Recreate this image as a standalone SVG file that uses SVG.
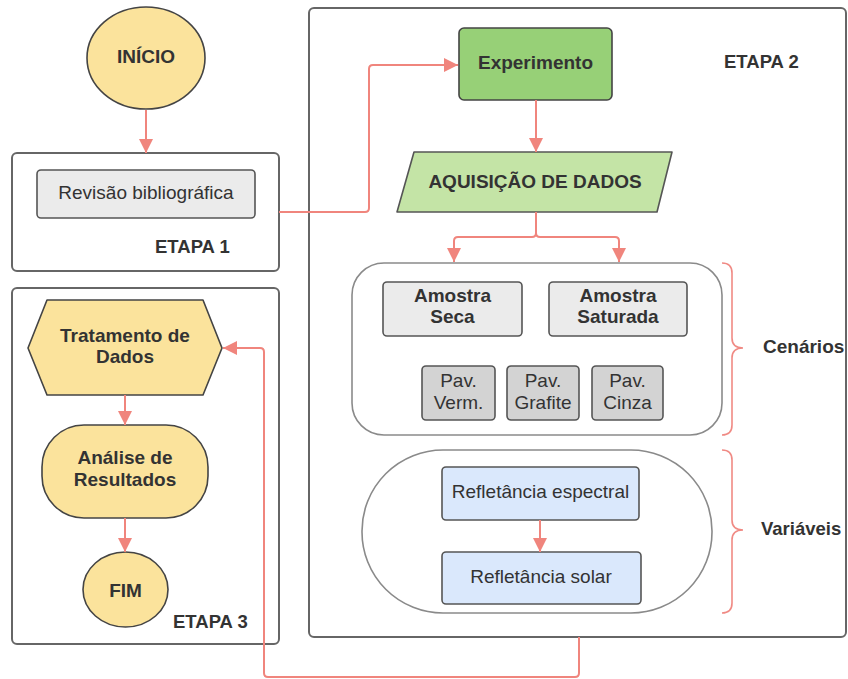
<svg xmlns="http://www.w3.org/2000/svg" width="848" height="679" viewBox="0 0 848 679">
<defs>
<marker id="ah" markerUnits="userSpaceOnUse" markerWidth="15" markerHeight="14" refX="14" refY="7" orient="auto">
<path d="M0,0 L14,7 L0,14 z" fill="#f0857d"/>
</marker>
<style>
.frame{fill:#fff;stroke:#666;stroke-width:2}
.grp{fill:#fff;stroke:#8a8a8a;stroke-width:1.6}
.yel{fill:#fbe39c;stroke:#444;stroke-width:1.6}
.gray{fill:#ebebeb;stroke:#555;stroke-width:1.6}
.dgray{fill:#d3d3d3;stroke:#555;stroke-width:1.6}
.blue{fill:#dae8fc;stroke:#555;stroke-width:1.6}
.con{fill:none;stroke:#f0857d;stroke-width:2}
.brace{fill:none;stroke:#f08a84;stroke-width:1.6}
text{font-family:"Liberation Sans",Arial,sans-serif;font-size:19px;fill:#333}
.b{font-weight:bold}
.c{text-anchor:middle}
</style>
</defs>
<rect width="848" height="679" fill="#fff"/>

<g id="etapa1">
<rect class="frame" x="12" y="153" width="267" height="118" rx="5"/>
<text class="b" x="155" y="253" style="font-size:18.5px">ETAPA 1</text>
</g>
<g id="etapa2">
<rect class="frame" x="309" y="8" width="537" height="629" rx="5"/>
<text class="b" x="724" y="68" style="font-size:18.5px">ETAPA 2</text>
</g>
<g id="etapa3">
<rect class="frame" x="12" y="288" width="267" height="356" rx="5"/>
<text class="b" x="173" y="628" style="font-size:18.5px">ETAPA 3</text>
</g>

<g id="inicio">
<ellipse class="yel" cx="146" cy="58" rx="59" ry="51"/>
<text class="b c" x="146" y="63">INÍCIO</text>
</g>
<g id="revisao">
<rect class="gray" x="37" y="170" width="218" height="48" rx="4"/>
<text class="c" x="146" y="199">Revisão bibliográfica</text>
</g>

<g id="experimento">
<rect x="459" y="28" width="153" height="72" rx="5" fill="#97d077" stroke="#444" stroke-width="1.6"/>
<text class="b c" x="535.5" y="69">Experimento</text>
</g>
<g id="aquisicao">
<path d="M414,152 H672 L657,212 H397 Z" fill="#c4e4a6" stroke="#555" stroke-width="1.6" stroke-linejoin="round"/>
<text class="b c" x="535" y="188">AQUISIÇÃO DE DADOS</text>
</g>

<g id="cenarios">
<rect class="grp" x="352" y="263" width="370" height="172" rx="32"/>
<path class="brace" d="M722,263 Q732,263 732,273 V338 Q732,348 743,348 Q732,348 732,358 V425 Q732,435 722,435"/>
<text class="b" x="763" y="353" style="font-size:19px">Cenários</text>
</g>
<g id="amostra-seca">
<rect class="gray" x="383" y="282" width="139" height="54" rx="4"/>
<text class="b c" x="452.5" y="302">Amostra</text>
<text class="b c" x="452.5" y="323">Seca</text>
</g>
<g id="amostra-saturada">
<rect class="gray" x="549" y="282" width="138" height="54" rx="4"/>
<text class="b c" x="618" y="302">Amostra</text>
<text class="b c" x="618" y="323">Saturada</text>
</g>
<g id="pav-verm">
<rect class="dgray" x="422" y="366" width="73" height="54" rx="4"/>
<text class="c" x="458.5" y="387">Pav.</text>
<text class="c" x="458.5" y="409">Verm.</text>
</g>
<g id="pav-grafite">
<rect class="dgray" x="507" y="366" width="72" height="54" rx="4"/>
<text class="c" x="543" y="387">Pav.</text>
<text class="c" x="543" y="409">Grafite</text>
</g>
<g id="pav-cinza">
<rect class="dgray" x="592" y="366" width="71" height="54" rx="4"/>
<text class="c" x="627.5" y="387">Pav.</text>
<text class="c" x="627.5" y="409">Cinza</text>
</g>

<g id="variaveis">
<rect class="grp" x="362" y="450" width="350" height="163" rx="81"/>
<path class="brace" d="M722,450 Q732,450 732,460 V520 Q732,530 743,530 Q732,530 732,540 V603 Q732,613 722,613"/>
<text class="b" x="761" y="535" style="font-size:18.5px">Variáveis</text>
</g>
<g id="ref-espectral">
<rect class="blue" x="442" y="467" width="197" height="53" rx="4"/>
<text class="c" x="540.5" y="498">Refletância espectral</text>
</g>
<g id="ref-solar">
<rect class="blue" x="442" y="552" width="199" height="52" rx="4"/>
<text class="c" x="541" y="583">Refletância solar</text>
</g>

<g id="tratamento">
<path class="yel" d="M28,348 L47,300 H203 L222,348 L203,395 H47 Z" stroke-linejoin="round"/>
<text class="b c" x="125" y="342">Tratamento de</text>
<text class="b c" x="125" y="363">Dados</text>
</g>
<g id="analise">
<rect class="yel" x="42" y="425" width="166" height="93" rx="42"/>
<text class="b c" x="125" y="464">Análise de</text>
<text class="b c" x="125" y="486">Resultados</text>
</g>
<g id="fim">
<ellipse class="yel" cx="125.5" cy="589.5" rx="42.5" ry="37.5"/>
<text class="b c" x="125.5" y="597">FIM</text>
</g>

<g id="connectors">
<path class="con" marker-end="url(#ah)" d="M146,110 V153"/>
<path class="con" marker-end="url(#ah)" d="M279,212 H365 Q369,212 369,208 V69 Q369,65 373,65 H458"/>
<path class="con" marker-end="url(#ah)" d="M536,100 V152"/>
<path class="con" marker-end="url(#ah)" d="M536,212 V233 Q536,237 532,237 H458 Q454,237 454,241 V262"/>
<path class="con" marker-end="url(#ah)" d="M536,212 V233 Q536,237 540,237 H615 Q619,237 619,241 V262"/>
<path class="con" marker-end="url(#ah)" d="M540,520 V552"/>
<path class="con" marker-end="url(#ah)" d="M579,637 V673 Q579,677 575,677 H268 Q264,677 264,673 V352 Q264,348 260,348 H223"/>
<path class="con" marker-end="url(#ah)" d="M125,395 V425"/>
<path class="con" marker-end="url(#ah)" d="M125,518 V552"/>
</g>
</svg>
